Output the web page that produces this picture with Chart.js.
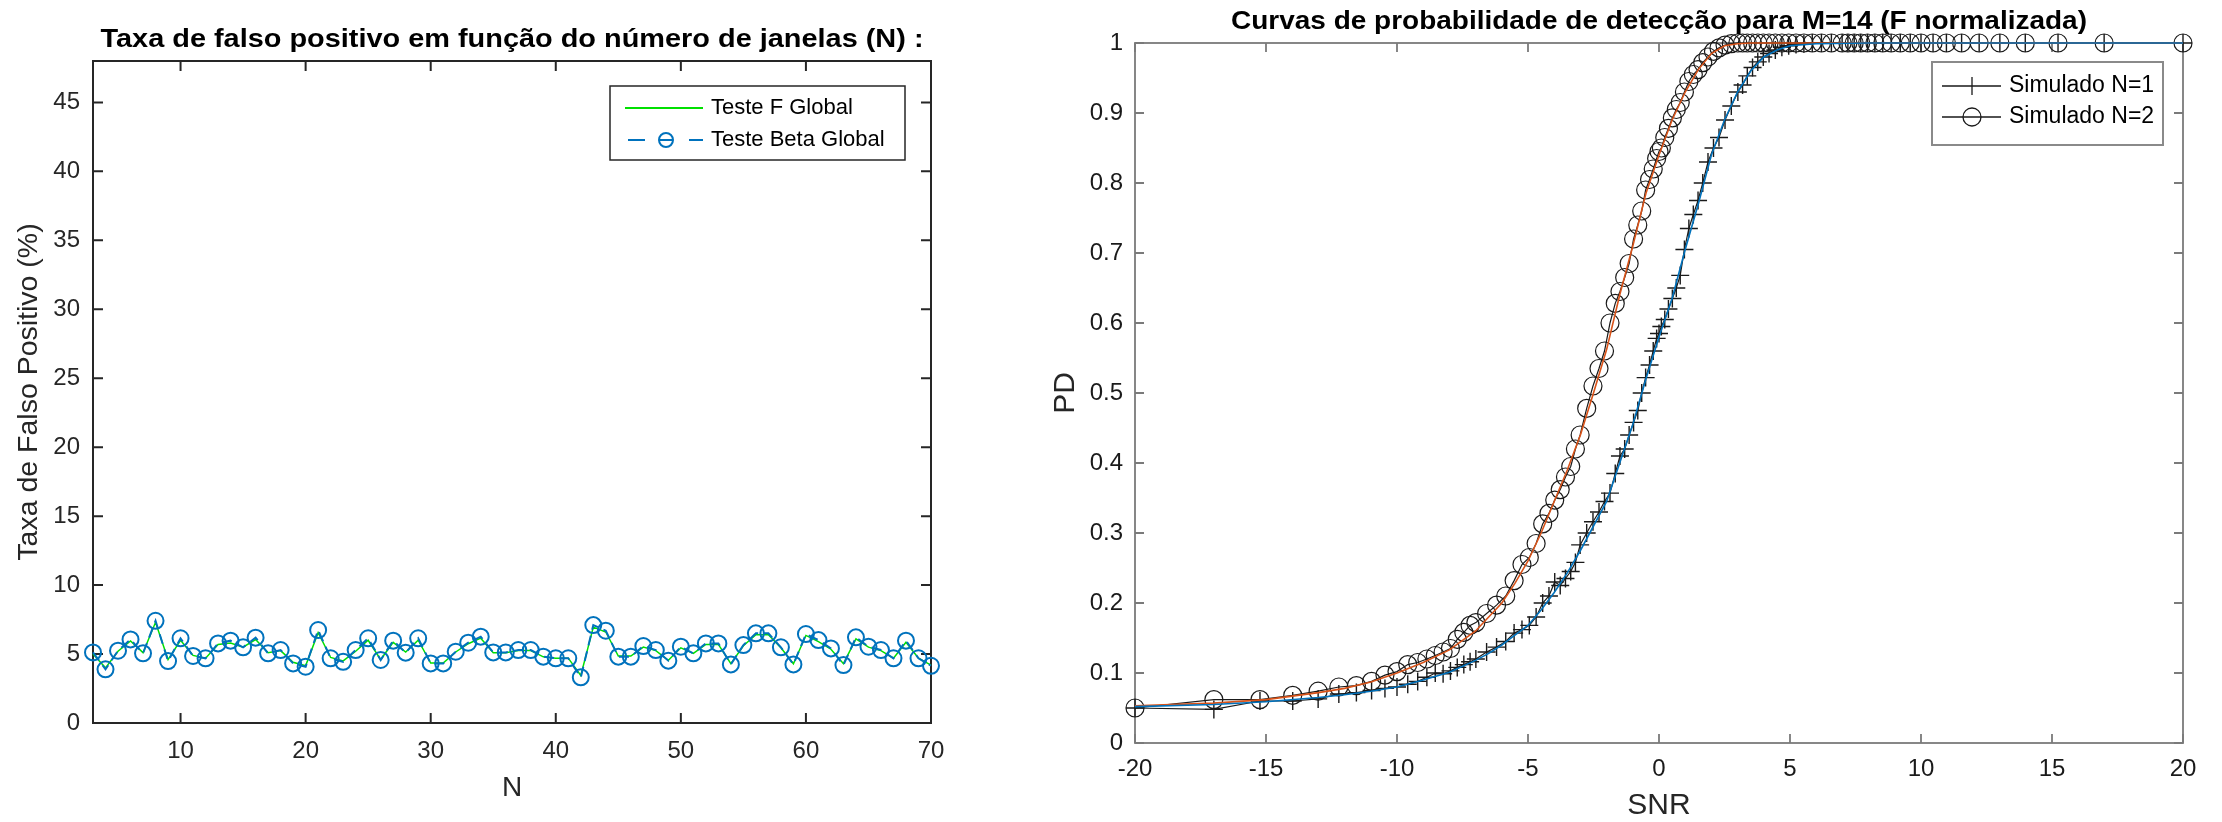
<!DOCTYPE html>
<html><head><meta charset="utf-8">
<script src="https://cdn.jsdelivr.net/npm/chart.js@4.4.0/dist/chart.umd.min.js"></script>
<style>
html,body{margin:0;padding:0;background:#fff;width:2222px;height:822px;overflow:hidden}
#c1{position:absolute;left:0;top:0}
#c2{position:absolute;left:1000px;top:0}
</style></head><body>
<canvas id="c1" width="1000" height="822"></canvas>
<canvas id="c2" width="1222" height="822"></canvas>
<script>
// ---------------- DATA: left chart ----------------
const nJanelas = [3,4,5,6,7,8,9,10,11,12,13,14,15,16,17,18,19,20,21,22,23,24,25,26,27,28,29,30,31,32,33,34,35,36,37,38,39,40,41,42,43,44,45,46,47,48,49,50,51,52,53,54,55,56,57,58,59,60,61,62,63,64,65,66,67,68,69,70];
const testeBetaGlobal = [5.12,3.89,5.24,6.06,5.05,7.41,4.49,6.14,4.86,4.69,
  5.77,5.97,5.49,6.19,5.05,5.29,4.32,4.08,6.74,4.69,
  4.44,5.29,6.14,4.57,5.97,5.10,6.14,4.32,4.32,5.17,
  5.82,6.26,5.12,5.12,5.29,5.29,4.81,4.69,4.69,3.31,
  7.10,6.69,4.81,4.81,5.58,5.29,4.52,5.53,5.05,5.77,
  5.77,4.25,5.65,6.50,6.50,5.49,4.25,6.45,6.01,5.41,
  4.20,6.21,5.53,5.29,4.69,5.97,4.69,4.15];
const testeFGlobal = [5.0,4.0,5.2,5.95,5.1,7.3,4.6,6.0,4.9,4.7,
  5.7,5.8,5.5,6.05,5.1,5.25,4.4,4.15,6.55,4.75,
  4.5,5.2,6.0,4.6,5.85,5.15,6.0,4.35,4.35,5.15,
  5.75,6.15,5.1,5.1,5.25,5.25,4.8,4.7,4.7,3.45,
  6.95,6.6,4.85,4.85,5.5,5.25,4.55,5.45,5.05,5.7,
  5.7,4.3,5.6,6.4,6.4,5.45,4.3,6.35,5.9,5.35,
  4.3,6.1,5.5,5.25,4.7,5.85,4.7,4.2];
const xTicksLeft = [10,20,30,40,50,60,70];
const yTicksLeft = [0,5,10,15,20,25,30,35,40,45];

// ---------------- DATA: right chart ----------------
const snrSim = [-20,-16.99,-15.23,-13.98,-13.01,-12.22,-11.55,-10.97,-10.46,-10,
  -9.59,-9.21,-8.86,-8.54,-8.24,-7.96,-7.70,-7.45,-7.21,-6.99,
  -6.58,-6.20,-5.85,-5.53,-5.23,-4.95,-4.69,-4.44,-4.20,-3.98,
  -3.77,-3.57,-3.37,-3.19,-3.01,-2.76,-2.52,-2.29,-2.08,-1.87,
  -1.67,-1.49,-1.31,-1.14,-0.97,-0.81,-0.66,-0.51,-0.36,-0.22,
  -0.09,0,
  0.09,0.22,0.36,0.51,0.66,0.81,0.97,1.14,1.31,1.49,
  1.67,1.87,2.08,2.29,2.52,2.76,3.01,3.19,3.37,3.57,
  3.77,3.98,4.20,4.44,4.69,4.95,5.23,5.53,5.85,6.20,
  6.58,6.99,7.21,7.45,7.70,7.96,8.24,8.54,8.86,9.21,
  9.59,10,10.46,10.97,11.55,12.22,13.01,13.98,15.23,16.99,20];
const pdSimN1 = [0.05,0.048,0.06,0.06,0.063,0.07,0.072,0.075,0.078,0.08,
  0.084,0.088,0.094,0.10,0.099,0.103,0.108,0.112,0.116,0.12,
  0.13,0.137,0.145,0.157,0.162,0.168,0.18,0.20,0.21,0.23,
  0.225,0.235,0.245,0.258,0.283,0.30,0.316,0.33,0.345,0.357,
  0.385,0.41,0.42,0.44,0.458,0.475,0.50,0.522,0.54,0.56,
  0.578,0.585,
  0.595,0.605,0.62,0.635,0.65,0.668,0.705,0.735,0.755,0.775,
  0.80,0.83,0.85,0.865,0.89,0.91,0.93,0.94,0.953,0.965,
  0.973,0.98,0.985,0.99,0.994,0.996,0.998,0.999,1,1,
  1,1,1,1,1,1,1,1,1,1,
  1,1,1,1,1,1,1,1,1,1,1];
const pdSimN2 = [0.05,0.062,0.062,0.068,0.074,0.08,0.082,0.088,0.097,0.102,
  0.112,0.115,0.12,0.125,0.13,0.135,0.148,0.158,0.168,0.172,
  0.185,0.197,0.21,0.232,0.255,0.265,0.285,0.313,0.328,0.347,
  0.362,0.38,0.395,0.42,0.44,0.478,0.51,0.535,0.56,0.60,
  0.628,0.645,0.665,0.685,0.72,0.74,0.76,0.79,0.805,0.82,
  0.835,0.845,
  0.85,0.865,0.878,0.893,0.905,0.915,0.93,0.945,0.955,0.962,
  0.972,0.98,0.988,0.993,0.997,0.999,1,1,1,1,
  1,1,1,1,1,1,1,1,1,1,
  1,1,1,1,1,1,1,1,1,1,
  1,1,1,1,1,1,1,1,1,1,1];
const snrTeo = [-20,-17,-15,-13,-12,-11,-10,-9,-8,-7,-6.5,-6,-5.5,-5,-4.5,-4,-3.5,-3,-2.5,-2,-1.5,-1,-0.5,0,0.5,1,1.5,2,2.5,3,3.5,4,4.5,5,6,8,20];
const pdTeoN1 = [0.052,0.055,0.059,0.065,0.069,0.074,0.080,0.090,0.101,0.118,0.128,0.140,0.154,0.168,0.190,0.215,0.243,0.275,0.310,0.345,0.400,0.455,0.520,0.580,0.635,0.705,0.770,0.840,0.890,0.930,0.960,0.980,0.990,0.996,0.999,1,1];
const pdTeoN2 = [0.053,0.057,0.062,0.072,0.078,0.087,0.100,0.115,0.133,0.160,0.180,0.200,0.228,0.260,0.300,0.345,0.390,0.440,0.500,0.562,0.640,0.710,0.785,0.840,0.890,0.930,0.962,0.985,0.996,0.999,1,1,1,1,1,1,1];
const xTicksRight = [-20,-15,-10,-5,0,5,10,15,20];
const yTicksRight = [0,0.1,0.2,0.3,0.4,0.5,0.6,0.7,0.8,0.9,1];

// ---------------- helpers ----------------
const FAM = '"Liberation Sans", Arial, Helvetica, sans-serif';
const pts = (xs, ys) => xs.map((x, i) => ({x: x, y: ys[i]}));

function framePlugin(color, width, tickLen) {
  return {
    id: 'frame',
    beforeDatasetsDraw(chart) {
      const {ctx, chartArea: a, scales: {x, y}} = chart;
      ctx.save();
      ctx.strokeStyle = color; ctx.lineWidth = width;
      ctx.beginPath();
      x.ticks.forEach(t => {
        const p = x.getPixelForValue(t.value);
        ctx.moveTo(p, a.bottom); ctx.lineTo(p, a.bottom - tickLen);
        ctx.moveTo(p, a.top); ctx.lineTo(p, a.top + tickLen);
      });
      y.ticks.forEach(t => {
        const p = y.getPixelForValue(t.value);
        ctx.moveTo(a.left, p); ctx.lineTo(a.left + tickLen, p);
        ctx.moveTo(a.right, p); ctx.lineTo(a.right - tickLen, p);
      });
      ctx.stroke();
      ctx.strokeRect(a.left, a.top, a.right - a.left, a.bottom - a.top);
      ctx.restore();
    }
  };
}

// title text, drawn with a horizontal stretch so it spans the reference width
function titlePlugin(text, baselineY, size, spanWidth) {
  return {
    id: 'ttl',
    afterDraw(chart) {
      const {ctx, chartArea: a} = chart;
      ctx.save();
      ctx.font = 'bold ' + size + 'px ' + FAM;
      ctx.fillStyle = '#000';
      ctx.textAlign = 'center';
      ctx.textBaseline = 'alphabetic';
      const w = ctx.measureText(text).width;
      const k = spanWidth / w;
      ctx.translate((a.left + a.right) / 2, baselineY);
      ctx.scale(k, 1);
      ctx.fillText(text, 0, 0);
      ctx.restore();
    }
  };
}

// ---------------- LEFT CHART ----------------
new Chart(document.getElementById('c1'), {
  type: 'line',
  data: {
    datasets: [
      {
        label: 'Teste Beta Global',
        data: pts(nJanelas, testeBetaGlobal),
        borderColor: '#0072BD', borderWidth: 2, borderDash: [10, 6],
        pointStyle: 'circle', pointRadius: 8, pointBorderWidth: 2,
        pointBorderColor: '#0072BD', pointBackgroundColor: 'rgba(0,0,0,0)',
        pointHoverRadius: 8, fill: false, tension: 0, clip: false
      },
      {
        label: 'Teste F Global',
        data: pts(nJanelas, testeFGlobal),
        borderColor: '#00E000', borderWidth: 1.5, pointRadius: 0,
        fill: false, tension: 0, clip: false
      }
    ]
  },
  options: {
    responsive: false, animation: false, events: [],
    layout: {padding: {left: 0, right: 69, top: 61, bottom: 0}},
    plugins: {legend: {display: false}, tooltip: {enabled: false}, title: {display: false}},
    scales: {
      x: {
        type: 'linear', min: 3, max: 70,
        grid: {display: false, drawTicks: false}, border: {display: false},
        afterBuildTicks: s => { s.ticks = xTicksLeft.map(v => ({value: v})); },
        afterFit: s => { s.height = 99; },
        ticks: {font: {family: FAM, size: 24}, color: '#262626', padding: 13.6, maxRotation: 0, autoSkip: false},
        title: {display: true, text: 'N', font: {family: FAM, size: 28}, color: '#262626', padding: {top: 0, bottom: 17.2}}
      },
      y: {
        type: 'linear', min: 0, max: 48,
        grid: {display: false, drawTicks: false}, border: {display: false},
        afterBuildTicks: s => { s.ticks = yTicksLeft.map(v => ({value: v})); },
        afterFit: s => { s.width = 93; },
        ticks: {font: {family: FAM, size: 24}, color: '#262626', padding: 13},
        title: {display: true, text: 'Taxa de Falso Positivo (%)', font: {family: FAM, size: 28.5}, color: '#262626', padding: {top: 11.9, bottom: 0}}
      }
    }
  },
  plugins: [
    framePlugin('#262626', 2, 10),
    titlePlugin('Taxa de falso positivo em função do número de janelas (N) :', 47, 26, 823),
    {
      id: 'legL',
      afterDraw(chart) {
        const ctx = chart.ctx;
        ctx.save();
        ctx.fillStyle = '#fff';
        ctx.fillRect(610, 86, 295, 74);
        ctx.strokeStyle = '#262626'; ctx.lineWidth = 1.5;
        ctx.strokeRect(610, 86, 295, 74);
        ctx.strokeStyle = '#00E000'; ctx.lineWidth = 2;
        ctx.beginPath(); ctx.moveTo(625, 108); ctx.lineTo(703, 108); ctx.stroke();
        ctx.strokeStyle = '#0072BD';
        ctx.beginPath(); ctx.moveTo(628, 140); ctx.lineTo(645, 140);
        ctx.moveTo(689, 140); ctx.lineTo(703, 140); ctx.stroke();
        ctx.beginPath(); ctx.arc(666, 140, 7, 0, Math.PI * 2); ctx.stroke();
        ctx.beginPath(); ctx.moveTo(659, 140); ctx.lineTo(673, 140); ctx.stroke();
        ctx.fillStyle = '#000';
        ctx.font = '22px ' + FAM; ctx.textBaseline = 'middle'; ctx.textAlign = 'left';
        ctx.fillText('Teste F Global', 711, 108);
        ctx.fillText('Teste Beta Global', 711, 140);
        ctx.restore();
      }
    }
  ]
});

// ---------------- RIGHT CHART ----------------
new Chart(document.getElementById('c2'), {
  type: 'line',
  data: {
    datasets: [
      {
        label: 'Teórico N=1',
        data: pts(snrTeo, pdTeoN1),
        borderColor: '#0072BD', borderWidth: 1.6, pointRadius: 0,
        fill: false, tension: 0, clip: false
      },
      {
        label: 'Teórico N=2',
        data: pts(snrTeo, pdTeoN2),
        borderColor: '#D95319', borderWidth: 1.6, pointRadius: 0,
        fill: false, tension: 0, clip: false
      },
      {
        label: 'Simulado N=1',
        data: pts(snrSim, pdSimN1),
        borderColor: '#1a1a1a', borderWidth: 1.2,
        pointStyle: 'cross', pointRadius: 9, pointBorderWidth: 1.4,
        pointBorderColor: '#1a1a1a', pointBackgroundColor: 'rgba(0,0,0,0)',
        fill: false, tension: 0, clip: false
      },
      {
        label: 'Simulado N=2',
        data: pts(snrSim, pdSimN2),
        borderColor: '#1a1a1a', borderWidth: 1.2,
        pointStyle: 'circle', pointRadius: 9, pointBorderWidth: 1.2,
        pointBorderColor: '#1a1a1a', pointBackgroundColor: 'rgba(0,0,0,0)',
        fill: false, tension: 0, clip: false
      }
    ]
  },
  options: {
    responsive: false, animation: false, events: [],
    layout: {padding: {left: 0, right: 39, top: 43, bottom: 0}},
    plugins: {legend: {display: false}, tooltip: {enabled: false}, title: {display: false}},
    scales: {
      x: {
        type: 'linear', min: -20, max: 20,
        grid: {display: false, drawTicks: false}, border: {display: false},
        afterBuildTicks: s => { s.ticks = xTicksRight.map(v => ({value: v})); },
        afterFit: s => { s.height = 79; },
        ticks: {font: {family: FAM, size: 24}, color: '#1a1a1a', padding: 11.6, maxRotation: 0, autoSkip: false,
                callback: v => String(v)},
        title: {display: true, text: 'SNR', font: {family: FAM, size: 30, lineHeight: 1}, color: '#262626', padding: {top: 0, bottom: 1}}
      },
      y: {
        type: 'linear', min: 0, max: 1,
        grid: {display: false, drawTicks: false}, border: {display: false},
        afterBuildTicks: s => { s.ticks = yTicksRight.map(v => ({value: v})); },
        afterFit: s => { s.width = 135; },
        ticks: {font: {family: FAM, size: 24}, color: '#1a1a1a', padding: 12,
                callback: v => String(v)},
        title: {display: true, text: 'PD', font: {family: FAM, size: 30, lineHeight: 1}, color: '#262626', padding: {top: 51, bottom: 0}}
      }
    }
  },
  plugins: [
    framePlugin('#7a7a7a', 1.8, 9),
    titlePlugin('Curvas de probabilidade de detecção para M=14 (F normalizada)', 29, 26, 856),
    {
      id: 'legR',
      afterDraw(chart) {
        const ctx = chart.ctx;
        ctx.save();
        ctx.fillStyle = '#fff';
        ctx.fillRect(932, 62, 231, 83);
        ctx.strokeStyle = '#8a8a8a'; ctx.lineWidth = 2;
        ctx.strokeRect(932, 62, 231, 83);
        ctx.strokeStyle = '#1a1a1a'; ctx.lineWidth = 1.3;
        ctx.beginPath();
        ctx.moveTo(942, 86); ctx.lineTo(1001, 86);
        ctx.moveTo(972, 77); ctx.lineTo(972, 95);
        ctx.moveTo(963, 86); ctx.lineTo(981, 86);
        ctx.moveTo(942, 117); ctx.lineTo(1001, 117);
        ctx.stroke();
        ctx.beginPath(); ctx.arc(972, 117, 9, 0, Math.PI * 2); ctx.stroke();
        ctx.fillStyle = '#000';
        ctx.font = '23px ' + FAM; ctx.textBaseline = 'middle'; ctx.textAlign = 'left';
        ctx.fillText('Simulado N=1', 1009, 86);
        ctx.fillText('Simulado N=2', 1009, 117);
        ctx.restore();
      }
    }
  ]
});
</script>
</body></html>
